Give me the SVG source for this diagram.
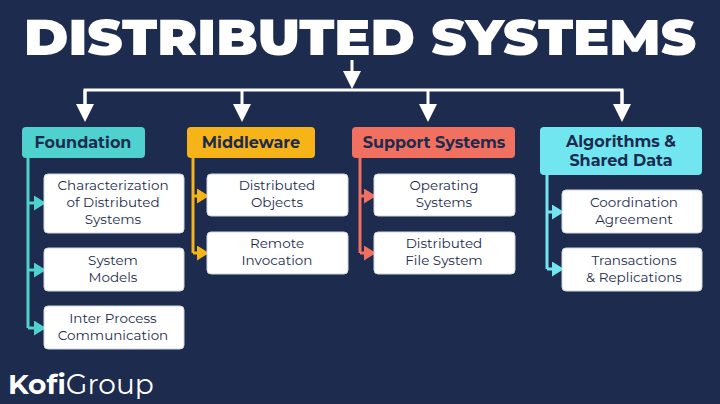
<svg xmlns="http://www.w3.org/2000/svg" width="720" height="404" viewBox="0 0 720 404">
<defs>
<style>
.t{font-family:"Montserrat","Liberation Sans",sans-serif;fill:#1c2b4e;font-weight:bold;font-size:16px;text-anchor:middle}
.c{font-family:"Montserrat","Liberation Sans",sans-serif;fill:#1c2b4e;font-size:13.5px;text-anchor:middle}
.box{fill:#fff;stroke:#cfd6e0;stroke-width:1}
.w{stroke:#fff;stroke-width:3;fill:none}
</style>
<marker id="aw" markerWidth="6" markerHeight="6" refX="3" refY="3" orient="auto" markerUnits="strokeWidth"><path d="M0,0L6,3L0,6z" fill="#fff"/></marker>
<marker id="at" markerWidth="4" markerHeight="5" refX="1" refY="2.5" orient="auto" markerUnits="strokeWidth"><path d="M0,0L4,2.5L0,5z" fill="#4fd1cf"/></marker>
<marker id="ay" markerWidth="4" markerHeight="5" refX="1" refY="2.5" orient="auto" markerUnits="strokeWidth"><path d="M0,0L4,2.5L0,5z" fill="#f7b419"/></marker>
<marker id="ar" markerWidth="4" markerHeight="5" refX="1" refY="2.5" orient="auto" markerUnits="strokeWidth"><path d="M0,0L4,2.5L0,5z" fill="#f2705f"/></marker>
<marker id="ac" markerWidth="4" markerHeight="5" refX="1" refY="2.5" orient="auto" markerUnits="strokeWidth"><path d="M0,0L4,2.5L0,5z" fill="#72e6f0"/></marker>
</defs>
<rect width="720" height="404" fill="#1c2b4e"/>
<text x="360" y="55" font-family="Montserrat,'Liberation Sans',sans-serif" font-weight="900" font-size="50" fill="#fff" text-anchor="middle" textLength="672" lengthAdjust="spacingAndGlyphs">DISTRIBUTED SYSTEMS</text>
<g id="connectors">
<path class="w" d="M352 60V80" marker-end="url(#aw)"/>
<path class="w" d="M85 113V90H622V113"/>
<path class="w" d="M85 90V113" marker-end="url(#aw)"/>
<path class="w" d="M242 90V113" marker-end="url(#aw)"/>
<path class="w" d="M428 90V113" marker-end="url(#aw)"/>
<path class="w" d="M622 90V113" marker-end="url(#aw)"/>
<g stroke="#4fd1cf" stroke-width="3" fill="none">
<path d="M28 158V328"/>
<path d="M28 203H37" marker-end="url(#at)"/><path d="M28 270H37" marker-end="url(#at)"/><path d="M28 328H37" marker-end="url(#at)"/>
</g>
<g stroke="#f7b419" stroke-width="3" fill="none">
<path d="M193 158V253"/>
<path d="M193 196H200" marker-end="url(#ay)"/><path d="M193 253H200" marker-end="url(#ay)"/>
</g>
<g stroke="#f2705f" stroke-width="3" fill="none">
<path d="M360 158V253"/>
<path d="M360 196H367" marker-end="url(#ar)"/><path d="M360 253H367" marker-end="url(#ar)"/>
</g>
<g stroke="#72e6f0" stroke-width="3" fill="none">
<path d="M547 175V269"/>
<path d="M547 212H555" marker-end="url(#ac)"/><path d="M547 269H555" marker-end="url(#ac)"/>
</g>
</g>
<g id="foundation"><rect x="22" y="127" width="123" height="31" rx="4" fill="#4fd1cf"/><text class="t" x="83" y="148">Foundation</text></g>
<g id="middleware"><rect x="187" y="127" width="128" height="31" rx="4" fill="#f7b419"/><text class="t" x="251" y="148">Middleware</text></g>
<g id="support"><rect x="352" y="127" width="163" height="31" rx="4" fill="#f2705f"/><text class="t" x="434" y="148">Support Systems</text></g>
<g id="algorithms"><rect x="540" y="127" width="162" height="48" rx="4" fill="#72e6f0"/><text class="t" x="621" y="147">Algorithms &amp;</text><text class="t" x="621" y="166">Shared Data</text></g>
<g id="char"><rect class="box" x="44" y="174" width="140" height="59" rx="4"/><text class="c" x="113" y="190">Characterization</text><text class="c" x="113" y="207">of Distributed</text><text class="c" x="113" y="224">Systems</text></g>
<g id="sysmodels"><rect class="box" x="44" y="248" width="140" height="43" rx="4"/><text class="c" x="113" y="265">System</text><text class="c" x="113" y="282">Models</text></g>
<g id="ipc"><rect class="box" x="44" y="306" width="140" height="43" rx="4"/><text class="c" x="113" y="323">Inter Process</text><text class="c" x="113" y="340">Communication</text></g>
<g id="distobj"><rect class="box" x="207" y="174" width="141" height="42" rx="4"/><text class="c" x="277" y="190">Distributed</text><text class="c" x="277" y="207">Objects</text></g>
<g id="remote"><rect class="box" x="207" y="232" width="141" height="42" rx="4"/><text class="c" x="277" y="248">Remote</text><text class="c" x="277" y="265">Invocation</text></g>
<g id="os"><rect class="box" x="374" y="174" width="141" height="42" rx="4"/><text class="c" x="444" y="190">Operating</text><text class="c" x="444" y="207">Systems</text></g>
<g id="dfs"><rect class="box" x="374" y="232" width="141" height="42" rx="4"/><text class="c" x="444" y="248">Distributed</text><text class="c" x="444" y="265">File System</text></g>
<g id="coord"><rect class="box" x="562" y="190" width="140" height="43" rx="4"/><text class="c" x="634" y="207">Coordination</text><text class="c" x="634" y="224">Agreement</text></g>
<g id="trans"><rect class="box" x="562" y="248" width="140" height="43" rx="4"/><text class="c" x="634" y="265">Transactions</text><text class="c" x="634" y="282">&amp; Replications</text></g>
<g id="logo"><text x="8" y="394" font-family="Montserrat,'Liberation Sans',sans-serif" font-size="28" fill="#fff"><tspan font-weight="bold">Kofi</tspan>Group</text></g>
</svg>
